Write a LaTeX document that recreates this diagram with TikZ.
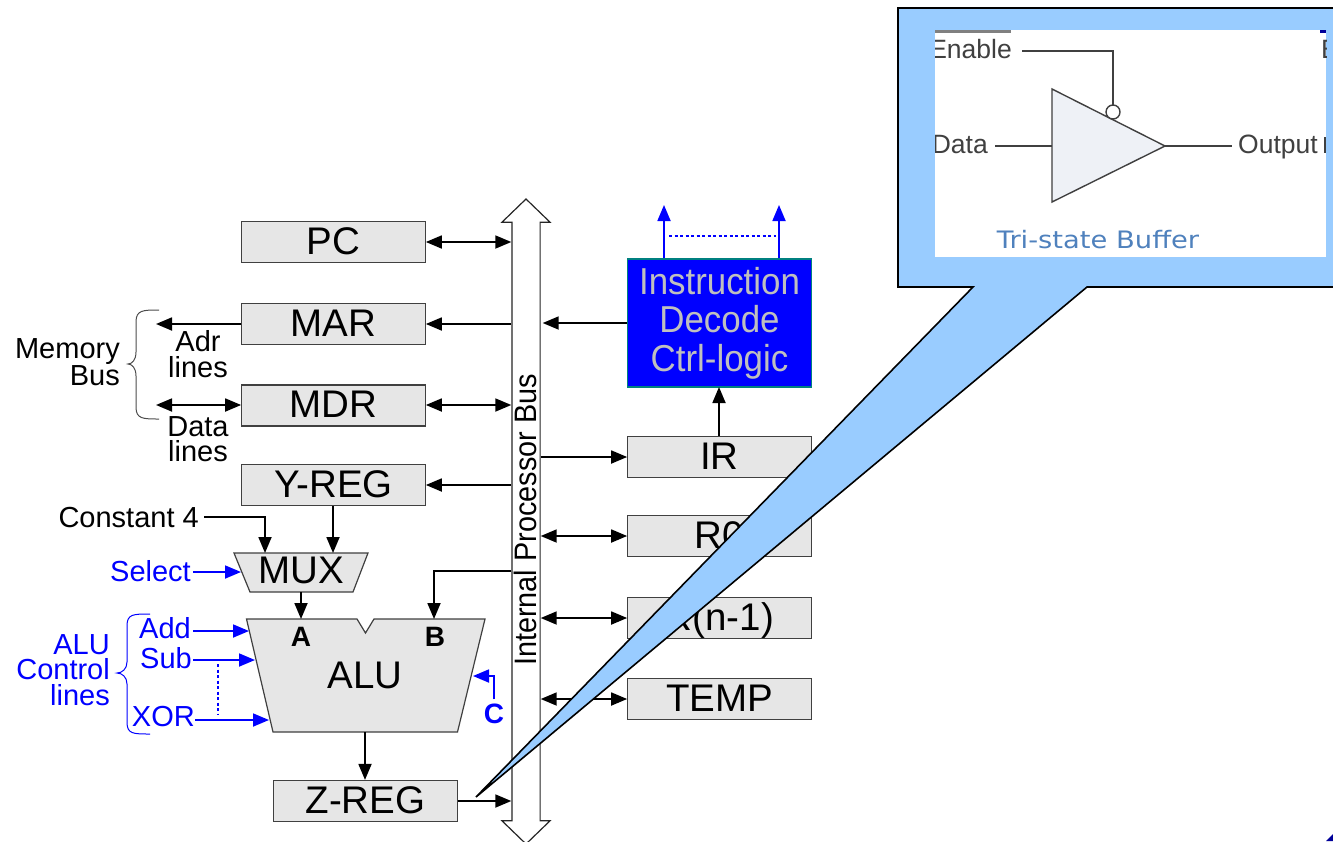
\documentclass[tikz,border=0pt]{standalone}
\usepackage{fontspec}
\setmainfont{Liberation Sans}
\newfontfamily\tallfont[FakeStretch=0.93]{Liberation Sans}
\newfontfamily\widefont[FakeStretch=1.14]{DejaVu Sans}
\usepackage{xcolor}
\usepackage{tikz}
\usetikzlibrary{arrows.meta,shapes.arrows}
\definecolor{regfill}{HTML}{E6E6E6}
\definecolor{calloutblue}{HTML}{99CCFF}
\definecolor{buffill}{HTML}{EEF1F6}
\definecolor{bufblue}{HTML}{4F81BD}
\definecolor{bufgray}{HTML}{404040}
\newcommand{\pxfont}[1]{\fontsize{#1}{#1}\selectfont}
\tikzset{
  regbox/.style={draw=black!75, line width=1.2pt, fill=regfill, minimum width=183.5pt, minimum height=41pt, inner sep=0pt, text height=29pt, text depth=5pt, font=\pxfont{38.5}},
  wire/.style={line width=1.8pt, >={Triangle[length=16pt,width=13pt]}},
  ctrl/.style={wire, blue},
  ctrldash/.style={blue, line width=1.6pt, dash pattern=on 3pt off 2.5pt},
  lbl/.style={inner sep=0pt, font=\pxfont{29}},
  multi/.style={lbl, align=#1, font=\fontsize{29}{25.5}\selectfont},
  ctrllbl/.style={lbl, text=blue},
  buftext/.style={inner sep=0pt, text=bufgray, font=\pxfont{26.5}},
  bufline/.style={draw=bufgray, line width=1.4pt}
}
\begin{document}
\begin{tikzpicture}[x=1pt, y=-1pt]
\useasboundingbox (0,0) rectangle (1333,841);
\node[draw=black!85, fill=white, line width=1.2pt, double arrow, shape border rotate=90, minimum height=645pt, minimum width=47pt, double arrow head extend=10pt, double arrow tip angle=92, inner sep=0pt, text width=27pt] (bus) at (526,521.5) {};
\node[rotate=90, anchor=base, inner sep=0pt, font=\tallfont\pxfont{31}] (buslabel) at (536,520) {Internal Processor Bus};

\node[regbox] (PC) at (333.5,242) {PC};
\node[regbox] (MAR) at (333.5,324) {MAR};
\node[regbox] (MDR) at (333.5,405.5) {MDR};
\node[regbox] (YREG) at (333.5,485) {Y-REG};
\node[regbox] (ZREG) at (365.5,801) {Z-REG};
\node[regbox] (IR) at (719.5,457) {IR};
\node[regbox] (R0) at (719.5,536) {R0};
\node[regbox] (Rn) at (719.5,618) {R(n-1)};
\node[regbox] (TEMP) at (719.5,699) {TEMP};
\node[draw=teal, line width=1.2pt, fill=blue, text=black!25, minimum width=183.5pt, minimum height=128pt, inner sep=0pt, align=center, font=\tallfont\fontsize{37.5}{38.3}\selectfont] (ICU) at (719.5,323) {Instruction\\Decode\\Ctrl-logic};

\draw[draw=black!75, line width=1.2pt, fill=regfill] (234,553) -- (368,553) -- (353,592) -- (250,592) -- cycle;
\node[inner sep=0pt, text height=28pt, text depth=6pt, font=\pxfont{38.5}] (MUX) at (301,572) {MUX};
\draw[draw=black!75, line width=1.2pt, fill=regfill] (246.5,619) -- (357,619) -- (365.5,633) -- (374,619) -- (485,619) -- (457.5,732) -- (273,732) -- cycle;
\node[inner sep=0pt, text height=29pt, text depth=5pt, font=\pxfont{38.5}] (ALU) at (365,676) {ALU};
\node[inner sep=0pt, anchor=base, font=\bfseries\pxfont{28}] (portA) at (301,646) {A};
\node[inner sep=0pt, anchor=base, font=\bfseries\pxfont{28}] (portB) at (435,646) {B};
\node[inner sep=0pt, anchor=base, text=blue, font=\bfseries\pxfont{28}] (portC) at (494,723) {C};

\coordinate (aluA) at (301,619);
\coordinate (aluB) at (434,619);
\coordinate (aluAdd) at (249,631);
\coordinate (aluSub) at (255,660);
\coordinate (aluXor) at (269,720);
\coordinate (aluC) at (473,676);
\coordinate (aluOut) at (365,732);
\coordinate (muxTop) at (265,553);
\coordinate (muxIn) at (333,553);
\coordinate (muxOut) at (301,592);
\coordinate (muxSel) at (241,572);
\coordinate (adrEnd) at (156,324);
\coordinate (dataEnd) at (156,405);
\coordinate (icuIn) at (719,387);

\node[multi=center] (adr) at (198,354) {Adr\\lines};
\node[multi=center] (data) at (198,439) {Data\\lines};
\node[multi=right, anchor=east] (membus) at (120,362) {Memory\\Bus};
\node[lbl, anchor=base east] (const) at (199,527) {Constant 4};
\node[ctrllbl, anchor=base east] (select) at (191,581) {Select};
\node[ctrllbl, anchor=base east] (add) at (191,638) {Add};
\node[ctrllbl, anchor=base east] (sub) at (192,668) {Sub};
\node[ctrllbl, anchor=base east] (xor) at (195,726) {XOR};
\node[multi=right, anchor=east, text=blue] (alulines) at (110,670) {ALU\\Control\\lines};

\draw[wire,<->] (PC.east) -- (PC.east -| bus.west);
\draw[wire,<-] (MAR.east) -- (MAR.east -| bus.west);
\draw[wire,->] (MAR.west |- adrEnd) -- (adrEnd);
\draw[wire,<->] (MDR.west |- dataEnd) -- (dataEnd);
\draw[wire,<->] (MDR.east |- dataEnd) -- (dataEnd -| bus.west);
\draw[wire,<-] (YREG.east) -- (YREG.east -| bus.west);
\draw[wire,->] (YREG.south -| muxIn) -- (muxIn);
\draw[wire,->] (const.east |- 0,517) ++(5,0) -| (muxTop);
\draw[wire,->] (muxOut) -- (aluA);
\draw[wire,->] (bus.west |- 0,571) -| (aluB);
\draw[wire,->] (aluOut) -- (aluOut |- ZREG.north);
\draw[wire,->] (ZREG.east) -- (ZREG.east -| bus.west);
\draw[wire,<-] (ICU.west -| bus.east) ++(2,0) -- (ICU.west);
\draw[wire,->] (IR.north -| icuIn) -- (icuIn);
\draw[wire,->] (bus.east |- IR.west) -- (IR.west);
\draw[wire,<->] (bus.east |- R0.west) -- (R0.west);
\draw[wire,<->] (bus.east |- Rn.west) -- (Rn.west);
\draw[wire,<->] (bus.east |- TEMP.west) -- (TEMP.west);

\draw[ctrl,->] (select.east |- muxSel) ++(2,0) -- (muxSel);
\draw[ctrl,->] (add.east |- aluAdd) ++(2,0) -- (aluAdd);
\draw[ctrl,->] (sub.east |- aluSub) ++(1,0) -- (aluSub);
\draw[ctrl,->] (xor.east |- aluXor) -- (aluXor);
\draw[ctrl,->] (portC.north) ++(0,-4) |- (aluC);
\draw[ctrldash] (218,664) -- (218,714);
\draw[ctrl,->] (ICU.north -| 664,0) -- (664,205);
\draw[ctrl,->] (ICU.north -| 779,0) -- (779,205);
\draw[ctrldash] (669,236) -- (776,236);

\draw[black!70, line width=1pt] (159,310) .. controls (143,310) and (136,310) .. (136,322) -- (136,352) .. controls (136,360) and (132,364) .. (128,364) .. controls (132,364) and (136,368) .. (136,376) -- (136,407) .. controls (136,419) and (143,419) .. (159,419);
\draw[blue, line width=1pt] (150,614) .. controls (133,614) and (127,614) .. (127,626) -- (127,662) .. controls (127,669) and (122,673) .. (117,673) .. controls (122,673) and (127,677) .. (127,684) -- (127,722) .. controls (127,734) and (133,734) .. (150,734);

\draw[black, line width=1.6pt, fill=calloutblue] (1340,8) -- (898,8) -- (898,287) -- (973,287) -- (476,797) -- (1087,287) -- (1340,287);
\fill[white] (935,30) rectangle (1326,257);
\begin{scope}
\clip (935,30) rectangle (1326,257);
\fill[black!50] (930,30) rectangle (1011,33);
\node[buftext, anchor=base east] (enable) at (1012,58) {Enable};
\node[buftext, anchor=base east] (datain) at (988,153) {Data};
\node[buftext, anchor=base west] (output) at (1238,153) {Output};
\node[buftext, anchor=base west] (cutE) at (1321,58) {E};
\fill[bufgray] (1324,137) rectangle (1326,153);
\fill[blue!60!black] (1320,30) rectangle (1326,33);
\end{scope}
\draw[bufline, fill=buffill] (1052,89) -- (1165,146) -- (1052,202) -- cycle;
\draw[bufline, fill=white] (1113,112) circle (7pt);
\coordinate (bufIn) at (1052,146);
\coordinate (bufOut) at (1165,146);
\coordinate (bufEnd) at (1232,146);
\coordinate (bubble) at (1113,105);
\draw[bufline] (1022,51) -| (bubble);
\draw[bufline] (datain.east |- bufIn) ++(7,0) -- (bufIn);
\draw[bufline] (bufOut) -- (bufEnd);
\node[inner sep=0pt, anchor=base, text=bufblue, font=\widefont\pxfont{24}] (tristate) at (1098,248) {Tri-state Buffer};
\fill[blue!60!black] (1333,834) -- (1333,841) -- (1326,841) -- cycle;
\end{tikzpicture}
\end{document}
